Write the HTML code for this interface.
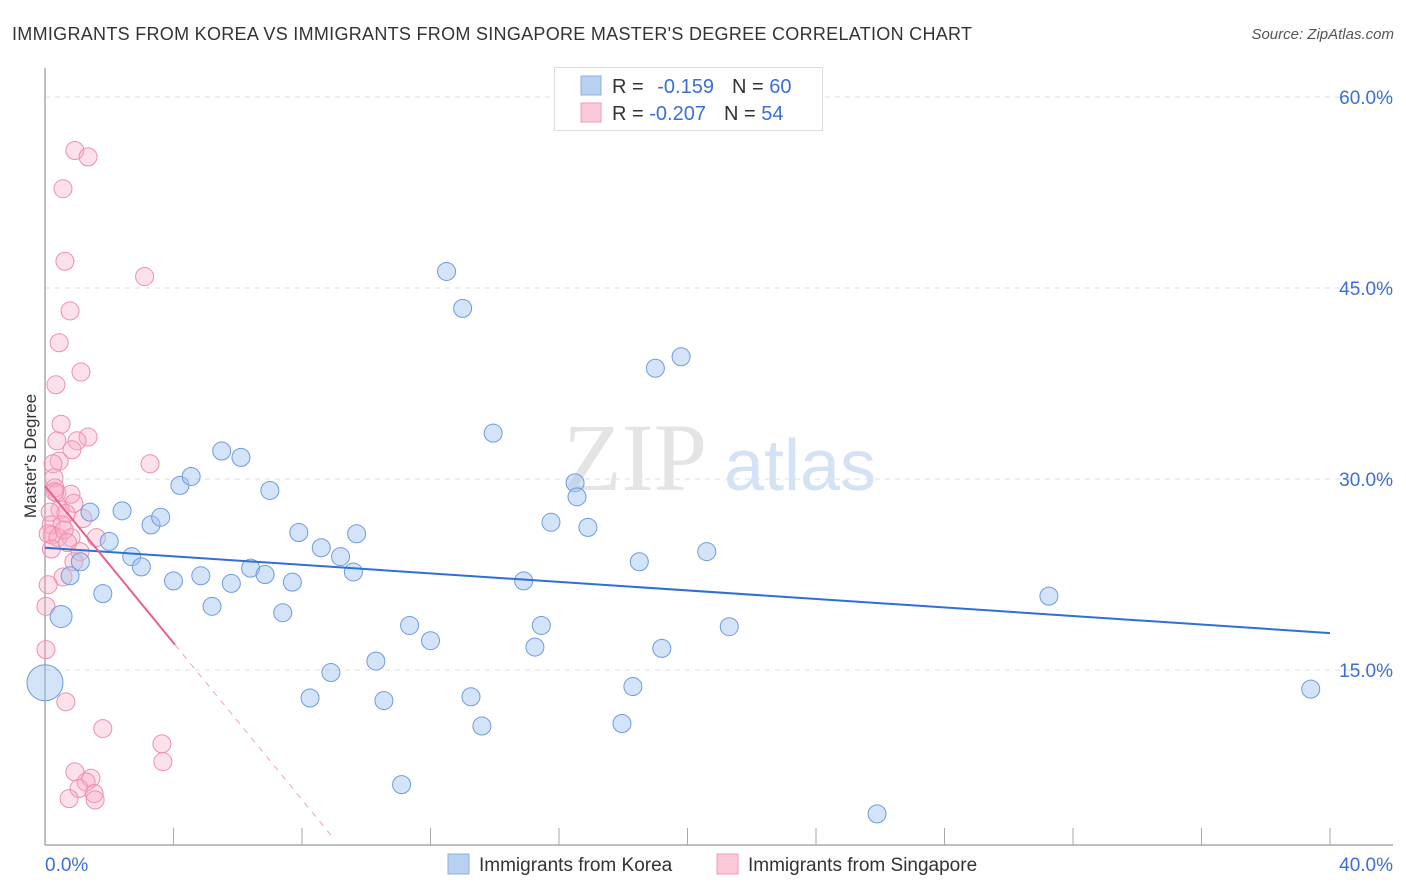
<!DOCTYPE html>
<html><head><meta charset="utf-8"><style>
body{margin:0;background:#fff;font-family:"Liberation Sans",sans-serif}
svg{display:block}
</style></head><body>
<svg id="chart" width="1406" height="892">
<text x="12" y="40" font-size="18" fill="#333" textLength="960">IMMIGRANTS FROM KOREA VS IMMIGRANTS FROM SINGAPORE MASTER'S DEGREE CORRELATION CHART</text>
<text x="1394" y="39" font-size="15" fill="#555" font-style="italic" text-anchor="end">Source: ZipAtlas.com</text>
<text x="36" y="456" font-size="17" fill="#333" text-anchor="middle" transform="rotate(-90 36 456)">Master's Degree</text>
<g id="grid"></g>
<text x="635" y="490" font-size="96" fill="#e4e4e4" font-family="Liberation Serif,serif" text-anchor="middle">ZIP</text>
<text x="800" y="490" font-size="72" fill="#d3e2f5" text-anchor="middle">atlas</text>
<g id="points"></g>
<g id="lines"></g>
<g>
<rect x="554.5" y="67.5" width="268" height="63" fill="#fff" stroke="#ddd"/>
<rect x="581" y="76" width="20" height="19" fill="#b8d1f3" stroke="#8ab0e6"/>
<rect x="581" y="103" width="20" height="19" fill="#fbc9d8" stroke="#f19ab7"/>
<text x="612" y="93" font-size="20" fill="#333">R = <tspan fill="#3b6fd4" dx="8">-0.159</tspan><tspan dx="18" fill="#333">N = </tspan><tspan fill="#3b6fd4">60</tspan></text>
<text x="612" y="120" font-size="20" fill="#333">R = <tspan fill="#3b6fd4">-0.207</tspan><tspan dx="18" fill="#333">N = </tspan><tspan fill="#3b6fd4">54</tspan></text>
</g>
<g>
<rect x="448" y="854" width="21" height="20" fill="#b8d1f3" stroke="#8ab0e6"/>
<text x="479" y="871" font-size="19" fill="#333">Immigrants from Korea</text>
<rect x="717" y="854" width="21" height="20" fill="#fbc9d8" stroke="#f19ab7"/>
<text x="748" y="871" font-size="19" fill="#333">Immigrants from Singapore</text>
</g>
</svg>
<script>
const yTicks=[15,30,45,60];
const yTickLabels=["15.0%","30.0%","45.0%","60.0%"];
const xTickLabels=["0.0%","40.0%"];
const koreaX=[0,0.5,0.78,1.1,1.4,1.8,2.0,2.4,2.7,3.0,3.3,3.6,4.0,4.2,4.55,4.85,5.2,5.5,5.8,6.1,6.4,6.85,7.0,7.4,7.7,7.9,8.25,8.6,8.9,9.2,9.6,9.7,10.3,10.55,11.1,11.35,12.0,12.5,13.0,13.26,13.6,13.95,14.9,15.25,15.45,15.75,16.5,16.56,16.9,17.96,18.3,18.5,19.0,19.2,19.8,20.6,21.3,25.9,31.25,39.4];
const koreaY=[14.0,19.2,22.4,23.5,27.4,21.0,25.1,27.5,23.9,23.1,26.4,27.0,22.0,29.5,30.2,22.4,20.0,32.2,21.8,31.7,23.0,22.5,29.1,19.5,21.9,25.8,12.8,24.6,14.8,23.9,22.7,25.7,15.7,12.6,6.0,18.5,17.3,46.3,43.4,12.9,10.6,33.6,22.0,16.8,18.5,26.6,29.7,28.6,26.2,10.8,13.7,23.5,38.7,16.7,39.6,24.3,18.4,3.7,20.8,13.5];
const koreaR=[18,11,9,9,9,9,9,9,9,9,9,9,9,9,9,9,9,9,9,9,9,9,9,9,9,9,9,9,9,9,9,9,9,9,9,9,9,9,9,9,9,9,9,9,9,9,9,9,9,9,9,9,9,9,9,9,9,9,9,9];
const singX=[0.93,1.34,0.56,0.62,3.1,0.78,0.44,1.12,0.34,0.5,1.34,0.37,1.0,0.84,3.27,0.44,0.25,0.28,0.31,0.37,0.81,0.9,0.47,1.18,0.65,0.16,0.19,0.53,0.22,0.1,0.81,1.6,0.4,1.09,0.9,0.56,0.1,0.03,0.03,0.65,1.8,3.64,3.67,0.93,1.43,1.28,1.06,1.53,0.75,1.56,0.3,0.6,0.2,0.7];
const singY=[55.8,55.3,52.8,47.1,45.9,43.2,40.7,38.4,37.4,34.3,33.3,33.0,33.0,32.3,31.2,31.4,31.2,30.1,29.3,28.9,28.8,28.1,27.6,26.9,27.3,27.4,26.4,26.4,25.6,25.7,25.4,25.4,25.4,24.3,23.5,22.3,21.7,20.0,16.6,12.5,10.4,9.2,7.8,7.0,6.5,6.2,5.7,5.3,4.9,4.8,29.0,26.0,24.5,25.0];
const koreaTrend=[24.6,17.9];
const singTrend=[29.45,-3.08];
const NS="http://www.w3.org/2000/svg";
const X0=45,X1=1330,XMAX=40,YB=861,YS=12.733;
const sx=v=>X0+v/XMAX*(X1-X0);
const sy=v=>YB-v*YS;
function mk(t,a,p){const e=document.createElementNS(NS,t);for(const k in a)e.setAttribute(k,a[k]);p.appendChild(e);return e;}
const grid=document.getElementById('grid');
yTicks.forEach((t,i)=>{
 const l=mk('line',{x1:45,x2:1393,y1:sy(t),y2:sy(t),stroke:'#ddd','stroke-dasharray':'5,5'},grid);
 
 
 const tx=mk('text',{x:1393,y:sy(t)+7,'font-size':19,fill:'#3b6fd4','text-anchor':'end'},grid);
 tx.textContent=yTickLabels[i];
 
 
});
const ax=mk('line',{x1:45,x2:1393,y1:845,y2:845,stroke:'#aaa','stroke-width':1.5},grid);


const ay=mk('line',{x1:45,x2:45,y1:68,y2:845,stroke:'#aaa','stroke-width':1.5},grid);


for(let v=4;v<=40;v+=4){
 const tk=mk('line',{x1:sx(v),x2:sx(v),y1:828,y2:845,stroke:'#aaa'},grid);
 
 
}
[[0,'start',45],[40,'end',1393]].forEach((d,i)=>{
 const tx=mk('text',{x:d[2],y:871,'font-size':19,fill:'#3b6fd4','text-anchor':d[1]},grid);
 tx.textContent=xTickLabels[i];
 
 
});
const pts=document.getElementById('points');
singX.forEach((x,i)=>{
 const c=mk('circle',{cx:sx(x),cy:sy(singY[i]),r:9,fill:'rgba(248,170,195,0.35)',stroke:'#ee8fae','stroke-width':1},pts);
 
 
});
koreaX.forEach((x,i)=>{
 const c=mk('circle',{cx:sx(x),cy:sy(koreaY[i]),r:koreaR[i],fill:'rgba(160,195,240,0.45)',stroke:'#6d9be0','stroke-width':1},pts);
 
 
});
const ln=document.getElementById('lines');
const kl=mk('line',{x1:sx(0),x2:sx(40),y1:sy(koreaTrend[0]),y2:sy(koreaTrend[1]),stroke:'#2f6fd6','stroke-width':2},ln);


const sf=x=>singTrend[0]+singTrend[1]*x;
const s1=mk('line',{x1:sx(0),x2:sx(4.05),y1:sy(sf(0)),y2:sy(sf(4.05)),stroke:'#e8608c','stroke-width':2},ln);


const s2=mk('line',{x1:sx(4.05),x2:sx(8.97),y1:sy(sf(4.05)),y2:sy(sf(8.97)),stroke:'#f0a0bb','stroke-width':1,'stroke-dasharray':'6,6'},ln);


</script>
</body></html>
